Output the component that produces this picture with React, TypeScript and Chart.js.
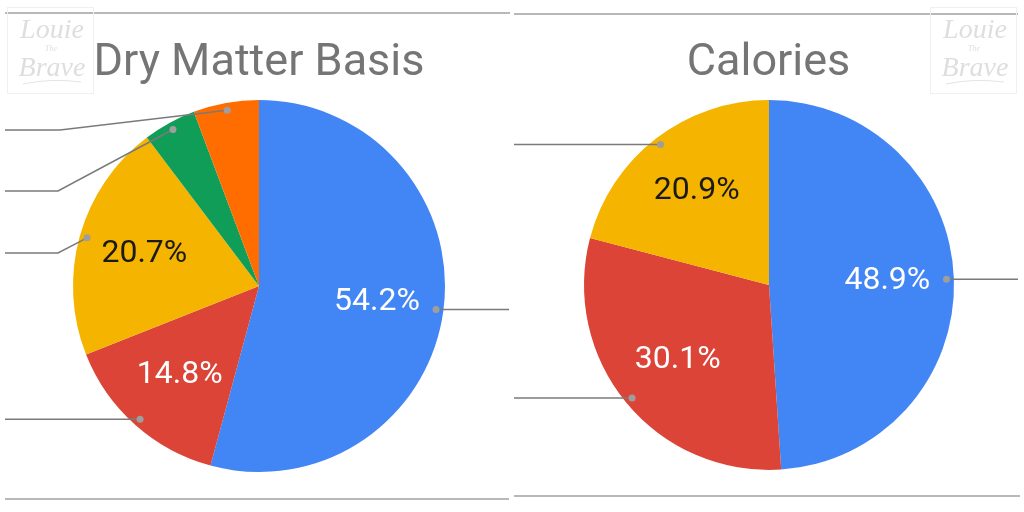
import { useEffect, useRef } from "react";
import { Chart, registerables } from "chart.js";

Chart.register(...registerables);

// ---------- data ----------
const dryCategories = ["Protein", "Fat", "Carbohydrates", "Fiber", "Ash"];
const dryValues = [54.2, 14.8, 20.7, 4.6, 5.7];
const dryColors = ["#4285F4", "#DB4437", "#F4B400", "#0F9D58", "#FF6D01"];

const calCategories = ["Protein", "Fat", "Carbohydrates"];
const calValues = [48.9, 30.1, 20.9];
const calColors = ["#4285F4", "#DB4437", "#F4B400"];

const titles = ["Dry Matter Basis", "Calories"];

// ---------- layout ----------
type Leader = { endX: number; elbowX?: number; elbowY?: number };

const dryLeaders: Leader[] = [
  { endX: 509 },
  { endX: 5 },
  { endX: 5, elbowX: 58, elbowY: 253 },
  { endX: 5, elbowX: 58, elbowY: 191 },
  { endX: 5, elbowX: 60, elbowY: 130 },
];
const calLeaders: Leader[] = [{ endX: 506 }, { endX: 2 }, { endX: 2 }];

type PanelLayout = {
  left: number;
  padding: { left: number; right: number; top: number; bottom: number };
  titleX: number;
  topLine: [number, number, number];
  bottomLine: [number, number, number];
  wmX: number;
};

const dryLayout: PanelLayout = {
  left: 0,
  padding: { left: 73, right: 67, top: 100, bottom: 40 },
  titleX: 259,
  topLine: [5, 510, 13],
  bottomLine: [5, 509, 499],
  wmX: 7,
};
const calLayout: PanelLayout = {
  left: 512,
  padding: { left: 72, right: 70, top: 100, bottom: 42 },
  titleX: 256.5,
  topLine: [2, 506, 14],
  bottomLine: [2, 508, 496],
  wmX: 418,
};

const FONT = "Roboto, 'Noto Sans', sans-serif";

function Panel(props: {
  title: string;
  labels: string[];
  values: number[];
  colors: string[];
  leaders: Leader[];
  layout: PanelLayout;
}) {
  const ref = useRef<HTMLCanvasElement | null>(null);

  useEffect(() => {
    const canvas = ref.current;
    if (!canvas) return;
    const { title, labels, values, colors, leaders, layout } = props;

    const overlay = {
      id: "overlay",
      afterDraw(chart: any) {
        const ctx: CanvasRenderingContext2D = chart.ctx;
        const meta = chart.getDatasetMeta(0);
        const total = values.reduce((a, b) => a + b, 0);
        ctx.save();

        // separator lines
        ctx.strokeStyle = "#b8b8b8";
        ctx.lineWidth = 2;
        for (const [x1, x2, y] of [layout.topLine, layout.bottomLine]) {
          ctx.beginPath();
          ctx.moveTo(x1, y);
          ctx.lineTo(x2, y);
          ctx.stroke();
        }

        // watermark
        const wx = layout.wmX;
        ctx.strokeStyle = "#f0f0f0";
        ctx.lineWidth = 1;
        ctx.strokeRect(wx + 0.5, 7.5, 86, 86);
        ctx.fillStyle = "#dedede";
        ctx.textAlign = "center";
        ctx.textBaseline = "alphabetic";
        ctx.font = "italic 28px 'Liberation Serif', 'DejaVu Serif', serif";
        ctx.fillText("Louie", wx + 45, 38);
        ctx.font = "italic 8px 'Liberation Serif', serif";
        ctx.fillText("The", wx + 44, 51);
        ctx.font = "italic 28px 'Liberation Serif', 'DejaVu Serif', serif";
        ctx.fillText("Brave", wx + 45, 76);
        ctx.beginPath();
        ctx.strokeStyle = "#e4e4e4";
        ctx.moveTo(wx + 16, 84);
        ctx.quadraticCurveTo(wx + 44, 78, wx + 74, 82);
        ctx.stroke();

        // title
        ctx.fillStyle = "#757575";
        ctx.font = `45px ${FONT}`;
        ctx.textAlign = "center";
        ctx.fillText(title, layout.titleX, 75);

        // leaders and labels
        meta.data.forEach((arc: any, i: number) => {
          const mid = (arc.startAngle + arc.endAngle) / 2;
          const r = arc.outerRadius;
          const dx = arc.x + Math.cos(mid) * r * 0.96;
          const dy = arc.y + Math.sin(mid) * r * 0.96;
          const ld = leaders[i];
          if (ld) {
            ctx.strokeStyle = "#7a7a7a";
            ctx.lineWidth = 1.5;
            ctx.beginPath();
            ctx.moveTo(dx, dy);
            if (ld.elbowY !== undefined && ld.elbowX !== undefined) {
              ctx.lineTo(ld.elbowX, ld.elbowY);
              ctx.lineTo(ld.endX, ld.elbowY);
            } else {
              ctx.lineTo(ld.endX, dy);
            }
            ctx.stroke();
            ctx.fillStyle = "#9e9e9e";
            ctx.beginPath();
            ctx.arc(dx, dy, 3.5, 0, Math.PI * 2);
            ctx.fill();
          }
          const share = values[i] / total;
          if (share > 0.1) {
            const lx = arc.x + Math.cos(mid) * r * 0.64;
            const ly = arc.y + Math.sin(mid) * r * 0.64;
            ctx.font = `32px ${FONT}`;
            ctx.textAlign = "center";
            ctx.textBaseline = "middle";
            ctx.fillStyle = colors[i] === "#F4B400" ? "#1a1a1a" : "#ffffff";
            ctx.fillText(values[i].toFixed(1) + "%", lx, ly);
          }
        });
        ctx.restore();
      },
    };

    const chart = new Chart(canvas, {
      type: "pie",
      data: {
        labels,
        datasets: [
          {
            data: values,
            backgroundColor: colors,
            borderWidth: 0,
          },
        ],
      },
      options: {
        responsive: false,
        animation: false,
        layout: { padding: layout.padding },
        plugins: {
          legend: { display: false },
          title: { display: false },
          tooltip: { enabled: false },
        },
      },
      plugins: [overlay],
    });
    return () => chart.destroy();
  }, []);

  return (
    <canvas
      ref={ref}
      width={512}
      height={512}
      style={{
        position: "absolute",
        left: props.layout.left,
        top: 0,
        width: 512,
        height: 512,
      }}
    />
  );
}

export default function App() {
  return (
    <div
      style={{
        position: "fixed",
        left: 0,
        top: 0,
        width: 1024,
        height: 512,
        background: "#ffffff",
        overflow: "hidden",
      }}
    >
      <Panel
        title={titles[0]}
        labels={dryCategories}
        values={dryValues}
        colors={dryColors}
        leaders={dryLeaders}
        layout={dryLayout}
      />
      <Panel
        title={titles[1]}
        labels={calCategories}
        values={calValues}
        colors={calColors}
        leaders={calLeaders}
        layout={calLayout}
      />
    </div>
  );
}
